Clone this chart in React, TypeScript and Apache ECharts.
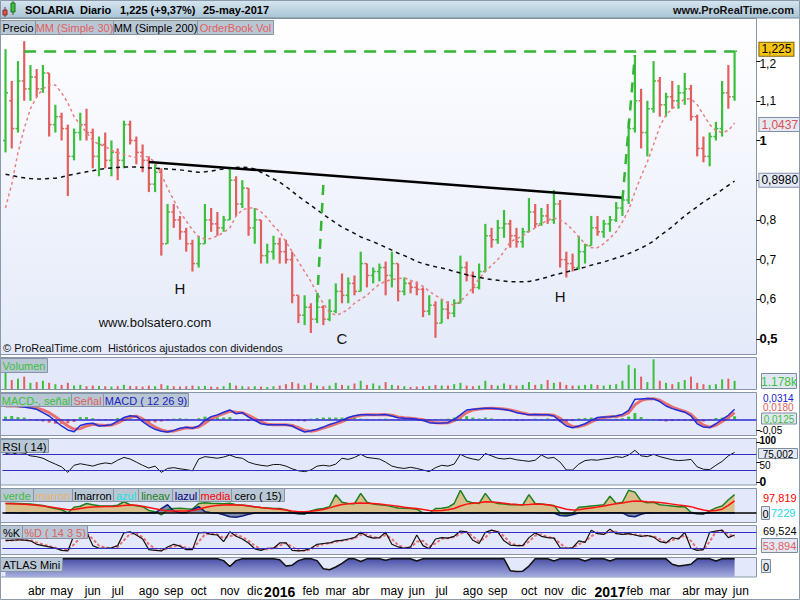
import React, { useEffect, useRef } from 'react';
import * as echarts from 'echarts';

// ---------- data (weekly) ----------
const START_DATE = '2015-02-23';
const WEEKS_ON_AXIS = 121;
const MONTH_NAMES = ['ene', 'feb', 'mar', 'abr', 'may', 'jun', 'jul', 'ago', 'sep', 'oct', 'nov', 'dic'];
const PRICE_TICKS = [0.5, 0.6, 0.7, 0.8, 0.9, 1.0, 1.1, 1.2];
const RSI_TICKS = [0, 50, 100];
const MACD_TICKS = [-0.05];

const OPEN = [1.00,1.10,1.03,1.15,1.13,1.16,1.13,1.17,1.04,1.06,
  1.03,0.96,1.02,1.04,1.02,0.96,0.99,0.95,0.97,0.95,
  1.04,1.00,0.97,0.95,0.89,0.92,0.74,0.82,0.80,0.77,
  0.74,0.69,0.74,0.80,0.79,0.78,0.80,0.90,0.84,0.88,
  0.78,0.80,0.71,0.72,0.74,0.72,0.70,0.61,0.56,0.58,
  0.55,0.58,0.55,0.57,0.62,0.61,0.64,0.62,0.69,0.66,
  0.67,0.68,0.66,0.69,0.62,0.64,0.63,0.625,0.57,0.585,
  0.54,0.575,0.565,0.59,0.68,0.66,0.63,0.67,0.76,0.75,
  0.78,0.79,0.76,0.745,0.77,0.82,0.79,0.81,0.80,0.84,
  0.70,0.69,0.68,0.72,0.735,0.78,0.77,0.79,0.80,0.83,
  0.85,1.03,1.10,1.02,1.08,1.15,1.09,1.11,1.10,1.12,
  1.13,1.06,0.98,0.96,1.01,1.03,1.12,1.11];
const HIGH = [1.23,1.15,1.20,1.25,1.19,1.18,1.19,1.17,1.09,1.07,
  1.04,1.03,1.07,1.08,1.03,1.01,1.02,1.00,0.98,1.05,
  1.05,1.01,0.99,0.96,0.94,0.93,0.84,0.84,0.81,0.78,
  0.75,0.76,0.84,0.83,0.82,0.81,0.93,0.91,0.90,0.88,
  0.83,0.80,0.74,0.76,0.755,0.75,0.72,0.61,0.61,0.59,
  0.61,0.585,0.60,0.64,0.665,0.655,0.66,0.72,0.69,0.68,
  0.69,0.695,0.72,0.69,0.655,0.645,0.645,0.63,0.61,0.595,
  0.60,0.595,0.60,0.71,0.695,0.67,0.69,0.79,0.78,0.80,
  0.825,0.80,0.78,0.78,0.855,0.84,0.83,0.84,0.875,0.85,
  0.72,0.715,0.76,0.74,0.81,0.81,0.80,0.81,0.845,0.86,
  1.05,1.215,1.13,1.10,1.20,1.16,1.12,1.15,1.14,1.17,
  1.14,1.065,1.01,1.02,1.047,1.15,1.19,1.225];
const LOW = [0.97,0.98,1.02,1.10,1.10,1.11,1.12,1.01,1.02,1.00,
  0.86,0.95,1.00,1.00,0.93,0.91,0.93,0.91,0.90,0.93,
  0.99,0.94,0.92,0.87,0.87,0.71,0.74,0.78,0.75,0.72,
  0.67,0.68,0.74,0.77,0.76,0.77,0.80,0.81,0.83,0.76,
  0.74,0.69,0.69,0.70,0.69,0.69,0.59,0.54,0.535,0.515,
  0.54,0.535,0.545,0.565,0.59,0.59,0.61,0.62,0.63,0.64,
  0.645,0.61,0.63,0.595,0.61,0.615,0.61,0.555,0.56,0.503,
  0.54,0.55,0.555,0.59,0.645,0.615,0.625,0.67,0.73,0.74,
  0.755,0.73,0.73,0.73,0.77,0.78,0.785,0.79,0.79,0.68,
  0.655,0.67,0.675,0.69,0.735,0.76,0.755,0.77,0.795,0.81,
  0.84,1.02,0.98,0.96,1.07,1.06,1.06,1.08,1.08,1.09,
  1.05,0.96,0.945,0.935,1.00,1.01,1.08,1.10];
const CLOSE = [1.12,1.03,1.15,1.13,1.16,1.13,1.17,1.04,1.06,1.03,
  0.96,1.02,1.04,1.02,0.96,0.99,0.95,0.97,0.95,1.04,
  1.00,0.97,0.95,0.89,0.92,0.74,0.82,0.80,0.77,0.74,
  0.69,0.74,0.80,0.79,0.78,0.80,0.90,0.84,0.88,0.78,
  0.80,0.71,0.72,0.74,0.72,0.70,0.61,0.56,0.58,0.55,
  0.58,0.55,0.57,0.62,0.61,0.64,0.62,0.69,0.66,0.67,
  0.68,0.66,0.69,0.62,0.64,0.63,0.625,0.57,0.585,0.54,
  0.575,0.565,0.59,0.68,0.66,0.63,0.67,0.76,0.75,0.78,
  0.79,0.76,0.745,0.77,0.82,0.79,0.81,0.80,0.84,0.70,
  0.69,0.68,0.72,0.735,0.78,0.77,0.79,0.80,0.83,0.85,
  1.03,1.10,1.02,1.08,1.15,1.09,1.11,1.10,1.12,1.13,
  1.06,0.98,0.96,1.01,1.03,1.12,1.11,1.225];
const MA30 = [0.83,0.89,0.97,1.03,1.08,1.11,1.13,1.14,1.14,1.12,
  1.095,1.06,1.04,1.02,1.00,0.99,0.985,0.975,0.97,0.965,
  0.96,0.957,0.962,0.958,0.945,0.915,0.88,0.85,0.82,0.797,
  0.775,0.757,0.752,0.753,0.76,0.768,0.78,0.81,0.825,0.83,
  0.83,0.82,0.805,0.785,0.77,0.745,0.72,0.695,0.67,0.645,
  0.615,0.59,0.567,0.56,0.565,0.575,0.59,0.60,0.61,0.625,
  0.638,0.645,0.65,0.652,0.654,0.648,0.64,0.633,0.62,0.61,
  0.60,0.59,0.585,0.595,0.61,0.63,0.652,0.67,0.685,0.70,
  0.72,0.745,0.752,0.76,0.77,0.78,0.79,0.80,0.805,0.80,
  0.79,0.775,0.757,0.74,0.73,0.73,0.74,0.754,0.77,0.795,
  0.825,0.87,0.91,0.946,0.99,1.035,1.065,1.08,1.092,1.105,
  1.105,1.09,1.065,1.04,1.025,1.02,1.025,1.044];
const MA200 = [0.915,0.912,0.908,0.906,0.904,0.903,0.903,0.904,0.905,0.908,
  0.912,0.915,0.918,0.921,0.924,0.927,0.929,0.931,0.932,0.933,
  0.933,0.933,0.932,0.931,0.93,0.929,0.928,0.927,0.926,0.924,
  0.922,0.92,0.921,0.923,0.926,0.928,0.93,0.932,0.933,0.932,
  0.928,0.92,0.912,0.903,0.895,0.884,0.872,0.859,0.848,0.837,
  0.825,0.814,0.803,0.792,0.782,0.774,0.766,0.757,0.751,0.745,
  0.738,0.731,0.724,0.716,0.71,0.703,0.695,0.69,0.686,0.682,
  0.679,0.675,0.67,0.666,0.662,0.658,0.655,0.652,0.65,0.648,
  0.646,0.644,0.644,0.644,0.645,0.648,0.652,0.656,0.661,0.665,
  0.669,0.673,0.677,0.681,0.686,0.69,0.694,0.699,0.704,0.709,
  0.715,0.722,0.729,0.737,0.747,0.76,0.771,0.783,0.797,0.81,
  0.822,0.833,0.845,0.855,0.865,0.876,0.887,0.898];
const VOLUME = [2600,1300,1500,1800,900,1000,1200,900,700,600,
  900,500,600,400,500,450,400,350,400,600,
  450,400,350,500,400,700,500,400,350,400,
  500,400,450,350,300,400,900,500,400,350,
  400,350,300,400,500,700,1000,800,600,900,
  500,400,500,900,600,500,800,1200,600,800,
  500,1000,600,500,400,300,350,400,450,600,
  500,500,700,900,500,400,500,1200,600,500,
  800,600,500,600,1000,600,700,1300,900,1000,
  600,500,500,600,700,600,500,600,700,1200,
  3500,3000,1800,1000,4300,1200,900,700,1000,1300,
  1800,900,700,600,700,1400,1500,1178];
const MACD = [0.064,0.062,0.058,0.055,0.051,0.045,0.03,0.015,-0.008,-0.03,
  -0.048,-0.056,-0.028,-0.02,-0.018,-0.03,-0.028,-0.024,-0.008,0.008,
  0.016,0.013,-0.01,-0.03,-0.045,-0.054,-0.057,-0.05,-0.04,-0.036,
  -0.04,-0.03,-0.005,0.012,0.02,0.032,0.042,0.025,0.03,0.01,
  -0.005,-0.02,-0.025,-0.025,-0.024,-0.025,-0.03,-0.045,-0.057,-0.052,
  -0.045,-0.035,-0.023,-0.015,-0.005,0.008,0.016,0.02,0.02,0.019,
  0.02,0.022,0.015,0.007,0.005,0.004,0.0,-0.005,-0.015,-0.018,
  -0.017,-0.015,0.0,0.02,0.042,0.045,0.048,0.05,0.05,0.048,
  0.044,0.04,0.03,0.025,0.02,0.022,0.02,0.021,0.015,-0.008,
  -0.03,-0.038,-0.03,-0.02,-0.005,0.008,0.01,0.012,0.015,0.022,
  0.04,0.09,0.092,0.094,0.092,0.08,0.06,0.048,0.04,0.032,
  0.015,-0.02,-0.035,-0.037,-0.02,0.0,0.018,0.045];
const SIGNAL = [0.06,0.061,0.06,0.058,0.055,0.05,0.042,0.03,0.012,-0.01,
  -0.03,-0.045,-0.042,-0.03,-0.022,-0.026,-0.028,-0.026,-0.016,-0.002,
  0.01,0.014,0.002,-0.018,-0.035,-0.048,-0.055,-0.053,-0.045,-0.038,
  -0.039,-0.035,-0.018,0.003,0.015,0.026,0.036,0.032,0.03,0.018,
  0.003,-0.012,-0.022,-0.025,-0.025,-0.025,-0.028,-0.038,-0.05,-0.054,
  -0.049,-0.04,-0.03,-0.02,-0.01,0.002,0.012,0.018,0.02,0.02,
  0.02,0.021,0.018,0.011,0.007,0.005,0.002,-0.002,-0.01,-0.016,
  -0.017,-0.016,-0.006,0.01,0.03,0.042,0.046,0.049,0.05,0.049,
  0.046,0.042,0.035,0.028,0.022,0.021,0.021,0.021,0.018,0.004,
  -0.018,-0.033,-0.033,-0.025,-0.012,0.002,0.008,0.011,0.013,0.018,
  0.03,0.065,0.085,0.092,0.093,0.086,0.07,0.055,0.045,0.036,
  0.022,-0.005,-0.027,-0.035,-0.027,-0.01,0.008,0.03];
const HIST = [0.012,0.015,0.01,0.008,-0.004,-0.006,-0.01,-0.015,-0.02,-0.02,
  -0.018,-0.012,0.01,0.01,0.005,-0.004,-0.004,-0.003,0.006,0.01,
  0.008,-0.002,-0.012,-0.015,-0.014,-0.01,-0.006,0.003,0.005,0.003,
  -0.002,0.005,0.012,0.01,0.008,0.008,0.01,-0.006,-0.002,-0.008,
  -0.009,-0.01,-0.006,-0.002,-0.002,-0.002,-0.004,-0.008,-0.01,0.003,
  0.006,0.008,0.008,0.008,0.008,0.008,0.006,0.003,0.002,-0.002,
  0.002,0.003,-0.003,-0.004,-0.003,-0.002,-0.003,-0.004,-0.006,-0.003,
  0.002,0.003,0.008,0.012,0.014,0.008,0.004,0.008,0.004,-0.002,
  -0.004,-0.004,-0.006,-0.005,-0.003,0.003,-0.002,0.004,-0.004,-0.012,
  -0.014,-0.006,0.004,0.006,0.008,0.006,0.003,0.002,0.003,0.005,
  0.012,0.028,0.01,0.002,-0.002,-0.006,-0.01,-0.008,-0.006,-0.005,
  -0.008,-0.014,-0.01,-0.003,0.006,0.008,0.01,0.014];
const RSI = [72,70,74,73,66,64,60,52,45,38,
  24,42,46,43,40,45,48,46,55,62,
  58,50,42,35,40,24,34,36,33,31,
  28,58,64,62,60,63,68,62,60,50,
  45,42,40,44,44,40,33,28,26,30,
  40,42,40,45,60,57,62,70,62,60,
  58,50,40,36,34,37,34,30,26,36,
  42,40,45,70,62,58,55,72,66,60,
  58,60,56,54,52,55,68,60,62,50,
  30,30,45,54,56,55,58,60,64,62,
  68,80,66,64,70,64,60,56,54,55,
  57,38,32,31,42,52,66,75];
const VERDE = [70,72,70,68,66,60,55,40,30,20,
  -5,40,48,70,60,52,50,50,56,84,
  60,52,45,15,5,-20,20,30,32,28,
  25,70,75,72,70,68,72,60,58,50,
  42,38,35,30,30,20,0,-10,-15,10,
  25,30,45,140,80,70,68,150,80,65,
  60,55,45,35,32,30,25,-5,-8,30,
  32,40,70,175,90,75,70,150,85,70,
  65,60,62,58,140,70,65,60,55,-5,
  -15,-10,40,45,50,55,60,127,70,80,
  175,160,90,75,80,60,55,50,45,45,
  0,-10,-15,10,35,50,100,140];
const MEDIA = [70,68,66,64,60,56,50,44,36,28,
  20,22,30,38,42,45,46,46,48,55,
  58,56,48,38,28,18,12,10,10,10,
  14,25,38,48,55,58,60,58,56,52,
  45,38,32,28,25,18,10,5,4,8,
  14,22,35,50,62,68,71,74,72,70,
  66,60,55,48,40,35,30,22,14,12,
  15,20,30,50,65,72,76,84,82,78,
  72,66,62,60,62,66,64,60,50,38,
  25,18,20,28,35,42,50,60,68,74,
  84,90,88,84,82,78,72,65,58,52,
  45,30,18,10,14,25,55,90];
const LAZUL = [-4,-3,-5,-4,-6,-3,-4,-5,-3,-4,
  -6,-4,-3,-5,-4,-3,-4,-5,-4,-3,
  -4,-5,-3,-4,-6,30,60,10,-4,-3,
  20,45,5,-4,-6,-20,-35,-40,-30,-15,
  -5,-4,-3,-5,-4,-3,-6,-12,-10,-4,
  -3,-5,-4,-3,-4,-5,-4,-3,-5,-4,
  -3,-4,-5,-4,-3,-6,-4,-5,-8,-4,
  -3,-5,-4,-3,-4,-5,-3,-4,-5,-4,
  -3,-4,-5,-4,-3,-4,-5,-4,-6,-25,
  -30,-20,-5,-4,-3,-4,-5,-4,-3,-4,
  -30,-35,-15,-4,-5,-3,-4,-5,-4,-3,
  -6,-12,-10,-4,-3,-4,-5,-4];
const STOCH_K = [50,50,52,51,48,35,30,25,20,12,
  10,70,78,82,30,20,20,22,30,78,
  82,70,55,15,12,10,25,35,28,15,
  15,78,80,72,70,45,82,65,55,40,
  18,12,20,20,40,40,12,10,12,20,
  35,38,40,48,50,55,60,80,65,58,
  60,80,35,25,20,25,70,30,18,55,
  60,58,65,85,82,50,38,80,88,82,
  48,32,30,30,60,78,65,60,58,22,
  20,22,48,42,88,75,72,92,75,72,
  75,70,65,68,62,45,40,60,55,80,
  20,12,15,80,85,88,60,70];
const STOCH_D = [48,50,51,51,50,42,34,28,22,16,
  12,35,60,78,55,30,22,21,25,50,
  75,76,62,35,18,12,18,28,30,22,
  16,45,72,76,72,58,65,72,62,48,
  30,16,16,20,30,40,25,12,11,16,
  28,36,39,44,49,52,58,70,72,62,
  59,70,55,32,22,22,45,48,25,38,
  56,58,62,75,82,65,45,60,84,84,
  65,40,31,30,45,68,72,62,59,38,
  21,21,35,45,65,80,74,82,82,74,
  74,72,68,66,65,54,42,50,58,68,
  48,18,14,45,82,86,74,62];
const ATLAS = [100,100,100,100,100,100,100,100,100,100,
  100,100,100,100,100,100,100,100,100,100,
  100,100,100,100,100,100,100,100,100,100,
  100,100,100,100,100,90,58,90,100,100,
  100,100,100,100,95,60,65,90,100,100,
  90,45,40,55,75,100,100,85,100,100,
  100,92,100,100,100,100,88,100,100,100,
  100,100,100,100,100,100,100,100,100,100,
  100,35,30,32,60,100,100,100,88,100,
  100,100,100,88,100,100,100,88,100,100,
  100,100,100,100,100,100,100,70,60,65,
  70,100,100,100,88,100,100,100];

// ---------- helpers ----------
const GREEN = '#3cbf3c';
const RED = '#e25f5f';
const DAY = 86400000;
const FONT = 'Arial';

function buildCategories(): string[] {
  const start = new Date(START_DATE + 'T00:00:00Z').getTime();
  const out: string[] = [];
  for (let w = 0; w < WEEKS_ON_AXIS; w++) out.push(new Date(start + w * 7 * DAY).toISOString().slice(0, 10));
  return out;
}
function buildMonthLabels(): Record<number, string> {
  const start = new Date(START_DATE + 'T00:00:00Z').getTime();
  const map: Record<number, string> = {};
  for (let y = 2015; y <= 2017; y++) {
    for (let m = 0; m < 12; m++) {
      const d = new Date(Date.UTC(y, m, 1));
      const dow = d.getUTCDay();
      if (dow === 6) d.setUTCDate(3);
      else if (dow === 0) d.setUTCDate(2);
      const idx = Math.floor((d.getTime() - start) / (7 * DAY));
      if (idx >= 3 && idx < WEEKS_ON_AXIS) map[idx] = m === 0 ? String(y) : MONTH_NAMES[m];
    }
  }
  return map;
}

const txt = (x: number, y: number, text: string, fill: string, font = '11px Arial', align = 'left', z = 60) => ({
  type: 'text', x, y, z, silent: true,
  style: { text, fill, font, textAlign: align, textVerticalAlign: 'middle', align, verticalAlign: 'middle' },
});
const rect = (x: number, y: number, w: number, h: number, fill: any, stroke: string | null, z: number) => ({
  type: 'rect', z, silent: true, shape: { x, y, width: w, height: h },
  style: { fill, stroke: stroke || 'none', lineWidth: 1 },
});
const labelBox = (x: number, y: number, w: number, h: number, text: string, color: string) => [
  rect(x + 0.5, y + 0.5, w, h, '#b9c7d4', '#8595a7', 50),
  txt(x + w / 2 + 0.5, y + h / 2 + 1, text, color, '11px Arial', 'center', 51),
];
const valueBox = (x: number, y: number, w: number, h: number, text: string, color: string, font = '12px Arial') => [
  rect(x + 0.5, y + 0.5, w, h, '#e2e8f3', '#7d8da0', 55),
  txt(x + w / 2 + 0.5, y + h / 2 + 1, text, color, font, 'center', 56),
];

function buildOption(): any {
  const cats = buildCategories();
  const monthLabels = buildMonthLabels();
  const gridLeft = 2.4;
  const gridRight = 43.6;
  const grids = [
    { top: 21.6, height: 332.4 },
    { top: 358, height: 31 },
    { top: 392, height: 44 },
    { top: 442.5, height: 39.3 },
    { top: 488, height: 34 },
    { top: 527, height: 26.6 },
    { top: 557, height: 20 },
  ];

  const fmtPrice = (v: number) => {
    const r = Math.round(v * 10) / 10;
    if (Math.abs(r - 0.9) < 1e-9) return '';
    const s = Math.abs(r - 1) < 1e-9 ? '1' : r.toFixed(1).replace('.', ',');
    if (Math.abs(r - 1.2) < 1e-9) return `{t|${s}}`;
    return Math.abs(r - 0.5) < 1e-9 || Math.abs(r - 1) < 1e-9 ? `{b|${s}}` : s;
  };

  const hiddenY = (k: number, min: number, max: number) => ({
    type: 'value', gridIndex: k, position: 'right', min, max,
    axisLine: { show: false }, splitLine: { show: false }, axisTick: { show: false }, axisLabel: { show: false },
  });

  const ml = (data: any[]) => ({ symbol: ['none', 'none'], silent: true, animation: false, label: { show: false }, data });

  const panelBorder = '#8797a9';
  const panelFill = '#e3e9fa';
  const mainGrad = new echarts.graphic.LinearGradient(0, 0, 0, 1, [
    { offset: 0, color: '#ffffff' }, { offset: 1, color: '#e4eaf9' },
  ]);
  const headGrad = new echarts.graphic.LinearGradient(0, 0, 0, 1, [
    { offset: 0, color: '#d7e6ef' }, { offset: 1, color: '#a9c4d4' },
  ]);

  const graphic: any[] = [
    // panels
    rect(0.5, 18.5, 756, 336, mainGrad, panelBorder, -10),
    rect(0.5, 357.5, 756, 32, panelFill, panelBorder, -10),
    rect(0.5, 392.5, 756, 43, panelFill, panelBorder, -10),
    rect(0.5, 438.5, 756, 46.5, panelFill, panelBorder, -10),
    rect(0.5, 488.5, 756, 34, panelFill, panelBorder, -10),
    rect(0.5, 525.5, 756, 29, panelFill, panelBorder, -10),
    rect(0.5, 557.5, 756, 19.5, panelFill, panelBorder, -10),
    // header
    rect(0, 0, 800, 18, headGrad, null, 40),
    { type: 'line', z: 41, silent: true, shape: { x1: 0, y1: 18, x2: 800, y2: 18 }, style: { stroke: '#7b8b9b', lineWidth: 1 } },
    { type: 'line', z: 42, silent: true, shape: { x1: 5, y1: 7, x2: 5, y2: 17 }, style: { stroke: '#803030', lineWidth: 1 } },
    rect(3, 10, 4, 5, '#e05050', '#803030', 43),
    { type: 'line', z: 42, silent: true, shape: { x1: 13, y1: 1, x2: 13, y2: 15 }, style: { stroke: '#1f6f1f', lineWidth: 1 } },
    rect(11, 3, 4, 9, '#40c040', '#1f6f1f', 43),
    txt(25, 10, 'SOLARIA', '#000', 'bold 11px Arial', 'left', 45),
    txt(80, 10, 'Diario', '#000', 'bold 11px Arial', 'left', 45),
    txt(120, 10, '1,225 (+9,37%)', '#000', 'bold 11px Arial', 'left', 45),
    txt(203, 10, '25-may-2017', '#000', 'bold 11px Arial', 'left', 45),
    txt(794, 10, 'www.ProRealTime.com', '#111', 'bold 11px Arial', 'right', 45),
    // legend row
    ...labelBox(0, 20, 35, 14, 'Precio', '#000'),
    ...labelBox(35, 20, 78, 14, 'MM (Simple 30)', '#e06060'),
    ...labelBox(113, 20, 84, 14, 'MM (Simple 200)', '#000'),
    ...labelBox(197, 20, 76, 14, 'OrderBook Vol', '#e06060'),
    // main annotations
    txt(155, 322, 'www.bolsatero.com', '#111', '13px Arial', 'center', 30),
    txt(3, 348, '© ProRealTime.com  Históricos ajustados con dividendos', '#111', '11px Arial', 'left', 30),
    // panel legends
    ...labelBox(0, 358, 47, 14, 'Volumen', '#3cbf3c'),
    ...labelBox(0, 393, 71, 13, 'MACD-, señal', '#3cbf3c'),
    ...labelBox(71, 393, 32, 13, 'Señal', '#e06060'),
    ...labelBox(103, 393, 85, 13, 'MACD ( 12 26 9)', '#2020c0'),
    ...labelBox(0, 439, 48, 13, 'RSI ( 14)', '#000'),
    ...labelBox(0, 488, 33, 13, 'verde', '#3cbf3c'),
    ...labelBox(33, 488, 39, 13, 'marron', '#f0b070'),
    ...labelBox(72, 488, 41, 13, 'lmarron', '#000'),
    ...labelBox(113, 488, 25, 13, 'azul', '#20e0e0'),
    ...labelBox(138, 488, 34, 13, 'lineav', '#208020'),
    ...labelBox(172, 488, 27, 13, 'lazul', '#000080'),
    ...labelBox(199, 488, 32, 13, 'media', '#ff0000'),
    ...labelBox(231, 488, 53, 13, 'cero ( 15)', '#000'),
    ...labelBox(0, 525, 22, 13, '%K', '#000'),
    ...labelBox(22, 525, 65, 13, '%D ( 14 3 5)', '#e06060'),
    ...labelBox(0, 557, 62, 14, 'ATLAS Mini', '#000'),
    // right value labels of the panels
    ...valueBox(761, 373, 35, 15, '1.178k', '#3cbf3c'),
    txt(763, 398, '0,0314', '#2020d0', '10px Arial', 'left', 54),
    txt(763, 407.5, '0,0180', '#e06060', '10px Arial', 'left', 54),
    ...valueBox(761, 412.5, 35, 11, '0,0125', '#3cbf3c', '10px Arial'),
    ...valueBox(758, 448, 39, 10, '75,002', '#000', '10px Arial'),
    txt(763, 498, '97,819', '#ff0000', '11px Arial', 'left', 54),
    ...valueBox(761, 506, 8, 13, '0', '#000', '11px Arial'),
    txt(771, 512.5, '7229', '#20d8e8', '11px Arial', 'left', 54),
    txt(763, 531, '69,524', '#000', '11px Arial', 'left', 54),
    ...valueBox(761, 538, 36, 14, '53,894', '#e06060', '11px Arial'),
    ...valueBox(761, 559, 9, 13, '0', '#000', '11px Arial'),
    // outer frame
    rect(0.5, 0.5, 799, 599, 'none', '#8a9aaa', 90),
  ];

  const xAxis = grids.map((_, k) => ({
    type: 'category', gridIndex: k, data: cats, boundaryGap: true,
    axisLine: { show: false }, axisTick: { show: false }, splitLine: { show: false },
    axisLabel: k === 6 ? {
      show: true, margin: 8, color: '#000', fontSize: 12, fontFamily: FONT,
      interval: (idx: number) => monthLabels[idx] !== undefined,
      formatter: (_v: string, idx: number) => {
        const l = monthLabels[idx] || '';
        return /^\d{4}$/.test(l) ? `{y|${l}}` : l;
      },
      rich: { y: { fontWeight: 'bold', fontSize: 14, fontFamily: FONT, color: '#000' } },
    } : { show: false },
  }));

  const yAxis = [
    {
      type: 'value', gridIndex: 0, position: 'right', min: 0.4622, max: 1.2995,
      axisLine: { show: false }, splitLine: { show: false },
      axisTick: { show: true, length: 4, lineStyle: { color: '#000' }, customValues: PRICE_TICKS },
      axisLabel: {
        customValues: PRICE_TICKS, formatter: fmtPrice, color: '#000', fontSize: 12, fontFamily: FONT, margin: 3,
        rich: {
          b: { fontWeight: 'bold', fontSize: 13, fontFamily: FONT, color: '#000' },
          t: { fontSize: 12, fontFamily: FONT, color: '#000', padding: [5, 0, 0, 0] },
        },
      },
    },
    hiddenY(1, 0, 4500),
    {
      type: 'value', gridIndex: 2, position: 'right', min: -0.0752, max: 0.123,
      axisLine: { show: false }, splitLine: { show: false },
      axisTick: { show: true, length: 4, lineStyle: { color: '#000' }, customValues: MACD_TICKS },
      axisLabel: { customValues: MACD_TICKS, formatter: () => '-0,05', color: '#000', fontSize: 10, fontFamily: FONT, margin: 3 },
    },
    {
      type: 'value', gridIndex: 3, position: 'right', min: 0, max: 100,
      axisLine: { show: false }, splitLine: { show: false },
      axisTick: { show: true, length: 4, lineStyle: { color: '#000' }, customValues: RSI_TICKS },
      axisLabel: {
        customValues: RSI_TICKS, color: '#000', fontSize: 11, fontFamily: FONT, margin: 3,
        formatter: (v: number) => (v === 50 ? '{m|50}' : v === 100 ? '{h|100}' : `{b|${v}}`),
        rich: {
          b: { fontWeight: 'bold', fontSize: 12, fontFamily: FONT, color: '#000' },
          h: { fontWeight: 'bold', fontSize: 10, fontFamily: FONT, color: '#000', padding: [0, 0, 4, 0] },
          m: { fontSize: 10, fontFamily: FONT, color: '#000', padding: [6, 0, 0, 0] },
        },
      },
    },
    hiddenY(4, -77, 193),
    hiddenY(5, 0, 100),
    hiddenY(6, 0, 110),
  ];

  const ohlc = OPEN.map((o, i) => [i, o, HIGH[i], LOW[i], CLOSE[i]]);
  const endLabel = (v: number, text: string, color: string, bg: string, border: string) => ({
    yAxis: v, lineStyle: { color: 'rgba(0,0,0,0)', width: 1, type: 'solid' },
    label: {
      show: true, position: 'end', distance: 3, formatter: text, color, fontSize: 12, fontFamily: FONT, lineHeight: 12,
      backgroundColor: bg, borderColor: border, borderWidth: 1, padding: [1, 2, 0, 2],
    },
  });

  const series: any[] = [
    {
      type: 'custom', name: 'Precio', xAxisIndex: 0, yAxisIndex: 0, data: ohlc, silent: true,
      encode: { x: 0, y: [1, 2, 3, 4] },
      renderItem: (_p: any, api: any) => {
        const x = api.value(0);
        const o = api.value(1), h = api.value(2), l = api.value(3), c = api.value(4);
        const pH = api.coord([x, h]), pL = api.coord([x, l]), pO = api.coord([x, o]), pC = api.coord([x, c]);
        const color = c >= o ? GREEN : RED;
        return {
          type: 'group',
          children: [
            { type: 'line', shape: { x1: pH[0], y1: pH[1], x2: pL[0], y2: pL[1] }, style: { stroke: color, lineWidth: 2.2 } },
            { type: 'line', shape: { x1: pO[0] - 2.5, y1: pO[1], x2: pO[0], y2: pO[1] }, style: { stroke: color, lineWidth: 1.5 } },
            { type: 'line', shape: { x1: pC[0], y1: pC[1], x2: pC[0] + 2.5, y2: pC[1] }, style: { stroke: color, lineWidth: 1.5 } },
          ],
        };
      },
    },
    {
      type: 'line', name: 'MM (Simple 30)', xAxisIndex: 0, yAxisIndex: 0, data: MA30, showSymbol: false, silent: true,
      lineStyle: { color: '#e88080', width: 1.5, type: [3, 3] }, z: 3,
      markLine: {
        symbol: ['none', 'none'], silent: true, animation: false,
        data: [
          [{ coord: [3, 1.225], lineStyle: { color: '#35b535', width: 2.5, type: [12, 8] }, label: { show: false } }, { coord: [117, 1.225] }],
          [{ coord: [23, 0.946], lineStyle: { color: '#000', width: 2.5, type: 'solid' }, label: { show: false } }, { coord: [99, 0.856] }],
          [{ coord: [51, 0.888], lineStyle: { color: '#35b535', width: 2.5, type: [10, 8] }, label: { show: false } }, { coord: [50, 0.593] }],
          [{ coord: [99, 0.85], lineStyle: { color: '#35b535', width: 2.5, type: [10, 8] }, label: { show: false } }, { coord: [101, 1.215] }],
          endLabel(1.229, '1,225', '#000', '#f6c514', '#7a6010'),
          endLabel(1.0437, '1,0437', '#e05050', '#e4e9f4', '#8090a8'),
        ],
      },
      markPoint: {
        symbol: 'rect', symbolSize: 1, silent: true, animation: false,
        itemStyle: { color: 'rgba(0,0,0,0)' },
        label: { show: true, position: 'inside', formatter: (p: any) => p.name, color: '#111', fontSize: 15, fontFamily: FONT },
        data: [
          { name: 'H', coord: [28, 0.628] },
          { name: 'C', coord: [54, 0.5] },
          { name: 'H', coord: [89, 0.606] },
        ],
      },
    },
    {
      type: 'line', name: 'MM (Simple 200)', xAxisIndex: 0, yAxisIndex: 0, data: MA200, showSymbol: false, silent: true,
      lineStyle: { color: '#111', width: 1.5, type: [4, 4] }, z: 3,
      markLine: {
        symbol: ['none', 'none'], silent: true, animation: false,
        data: [endLabel(0.898, '0,8980', '#000', '#e4e9f4', '#8090a8')],
      },
    },
    {
      type: 'bar', name: 'Volumen', xAxisIndex: 1, yAxisIndex: 1, barWidth: 2, silent: true,
      data: VOLUME.map((v, i) => ({ value: v, itemStyle: { color: CLOSE[i] >= OPEN[i] ? GREEN : RED } })),
    },
    {
      type: 'bar', name: 'MACD-, señal', xAxisIndex: 2, yAxisIndex: 2, barWidth: 3, silent: true,
      data: HIST.map((v) => ({ value: v, itemStyle: { color: v >= 0 ? GREEN : RED } })),
    },
    {
      type: 'line', name: 'Señal', xAxisIndex: 2, yAxisIndex: 2, data: SIGNAL, showSymbol: false, silent: true,
      lineStyle: { color: '#e87070', width: 3 },
    },
    {
      type: 'line', name: 'MACD', xAxisIndex: 2, yAxisIndex: 2, data: MACD, showSymbol: false, silent: true,
      lineStyle: { color: '#1f2fe0', width: 1.5 },
      markLine: ml([{ yAxis: 0, lineStyle: { color: '#2a2ad0', width: 1.5, type: 'solid' } }]),
    },
    {
      type: 'line', name: 'RSI', xAxisIndex: 3, yAxisIndex: 3, data: RSI, showSymbol: false, silent: true,
      lineStyle: { color: '#111', width: 1 },
      markLine: ml([
        { yAxis: 70, lineStyle: { color: '#3030c0', width: 1, type: 'solid' } },
        { yAxis: 30, lineStyle: { color: '#3030c0', width: 1, type: 'solid' } },
      ]),
    },
    {
      type: 'line', name: 'verde', xAxisIndex: 4, yAxisIndex: 4, data: VERDE, showSymbol: false, silent: true,
      lineStyle: { color: '#1f7f1f', width: 1.5 }, areaStyle: { color: '#d8c08c', opacity: 1, origin: 0 },
    },
    {
      type: 'line', name: 'lazul', xAxisIndex: 4, yAxisIndex: 4, data: LAZUL, showSymbol: false, silent: true,
      lineStyle: { color: '#10207a', width: 1.5 }, areaStyle: { color: '#6f7aa0', opacity: 0.85, origin: 0 },
    },
    {
      type: 'line', name: 'media', xAxisIndex: 4, yAxisIndex: 4, data: MEDIA, showSymbol: false, silent: true,
      lineStyle: { color: '#ff1010', width: 1.5 },
      markLine: ml([{ yAxis: 0, lineStyle: { color: '#000', width: 1.5, type: 'solid' } }]),
    },
    {
      type: 'line', name: '%D', xAxisIndex: 5, yAxisIndex: 5, data: STOCH_D, showSymbol: false, silent: true,
      lineStyle: { color: '#e87070', width: 2, type: [3, 2] },
      markLine: ml([
        { yAxis: 80, lineStyle: { color: '#3030c0', width: 1, type: 'solid' } },
        { yAxis: 20, lineStyle: { color: '#3030c0', width: 1, type: 'solid' } },
      ]),
    },
    {
      type: 'line', name: '%K', xAxisIndex: 5, yAxisIndex: 5, data: STOCH_K, showSymbol: false, silent: true,
      lineStyle: { color: '#111', width: 1.2 },
    },
    {
      type: 'line', name: 'ATLAS Mini', xAxisIndex: 6, yAxisIndex: 6, data: ATLAS, showSymbol: false, silent: true,
      lineStyle: { color: '#111', width: 1.5 },
      areaStyle: {
        origin: 'start', opacity: 1,
        color: new echarts.graphic.LinearGradient(0, 0, 0, 1, [
          { offset: 0, color: '#4a50a6' }, { offset: 1, color: '#a7aee0' },
        ]),
      },
    },
  ];

  return {
    animation: false,
    backgroundColor: '#ffffff',
    textStyle: { fontFamily: FONT },
    grid: grids.map((g) => ({ left: gridLeft, right: gridRight, top: g.top, height: g.height, containLabel: false })),
    xAxis,
    yAxis,
    series,
    graphic: { elements: graphic },
  };
}

export default function App() {
  const ref = useRef<HTMLDivElement>(null);
  useEffect(() => {
    if (!ref.current) return;
    const chart = echarts.init(ref.current, undefined, { renderer: 'svg' });
    chart.setOption(buildOption());
    return () => chart.dispose();
  }, []);
  return <div ref={ref} style={{ position: 'fixed', left: 0, top: 0, width: 800, height: 600, background: '#fff' }} />;
}
